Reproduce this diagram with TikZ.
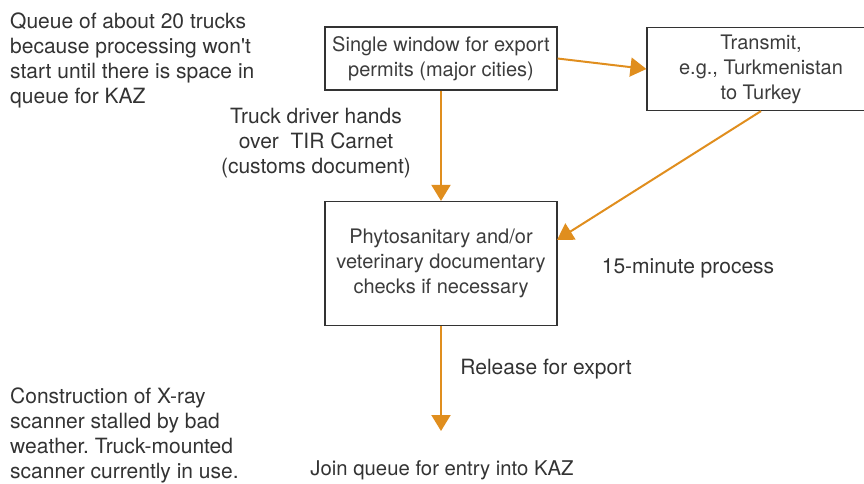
\documentclass[tikz,border=0pt]{standalone}
\usepackage{fontspec}
\setmainfont{TeX Gyre Heros}
\usetikzlibrary{arrows.meta}
\frenchspacing
\definecolor{txt}{HTML}{333333}
\definecolor{boxtxt}{HTML}{3C3C3C}
\definecolor{org}{HTML}{E08E1E}
\tikzset{
  x=1pt, y=-1pt,
  boxnode/.style={draw=txt, line width=1.2pt, text=boxtxt, align=center,
    font=\fontsize{20}{25}\selectfont, inner sep=0pt},
  lbl/.style={text=txt, align=center, font=\fontsize{21}{25}\selectfont, inner sep=0pt},
  lbll/.style={text=txt, align=left, font=\fontsize{21}{25}\selectfont, inner sep=0pt, anchor=west},
  flow/.style={draw=org, line width=2pt, -{Triangle[width=19pt,length=16pt]}}
}
\begin{document}
\begin{tikzpicture}
\useasboundingbox (0,0) rectangle (864,483);
\clip (0,0) rectangle (864,483);
\node[boxnode, minimum width=232pt, minimum height=63pt] (win) at (441,58.5) {Single window for export\\permits (major cities)};
\node[boxnode, minimum width=228pt, minimum height=83pt] (trans) at (761,69) {Transmit,\\e.g., Turkmenistan\\to Turkey};
\node[boxnode, minimum width=232pt, minimum height=124pt] (phyto) at (441,263.5) {Phytosanitary and/or\\veterinary documentary\\checks if necessary};
\node[lbll] (queue) at (10,60) {Queue of about 20 trucks\\because processing won\textquotesingle t\\start until there is space in\\queue for KAZ};
\node[lbll] (xray) at (10,435) {Construction of X-ray\\scanner stalled by bad\\weather. Truck-mounted\\scanner currently in use.};
\node[lbl] (truck) at (316,143) {Truck driver hands\\over\ \ TIR Carnet\\(customs document)};
\node[lbl] (fifteen) at (688,268) {15-minute process};
\node[lbl] (release) at (546,369) {Release for export};
\node[lbl, font=\fontsize{20.3}{25}\selectfont] (join) at (442,470) {Join queue for entry into KAZ};
\coordinate (phin) at (557,240);
\coordinate (joinend) at (441,431);
\draw[flow] (win.east) -- (trans.west);
\draw[flow] (win.south) -- (phyto.north);
\draw[flow] (trans.south) -- (phin);
\draw[flow] (phyto.south) -- (joinend);
\end{tikzpicture}
\end{document}
